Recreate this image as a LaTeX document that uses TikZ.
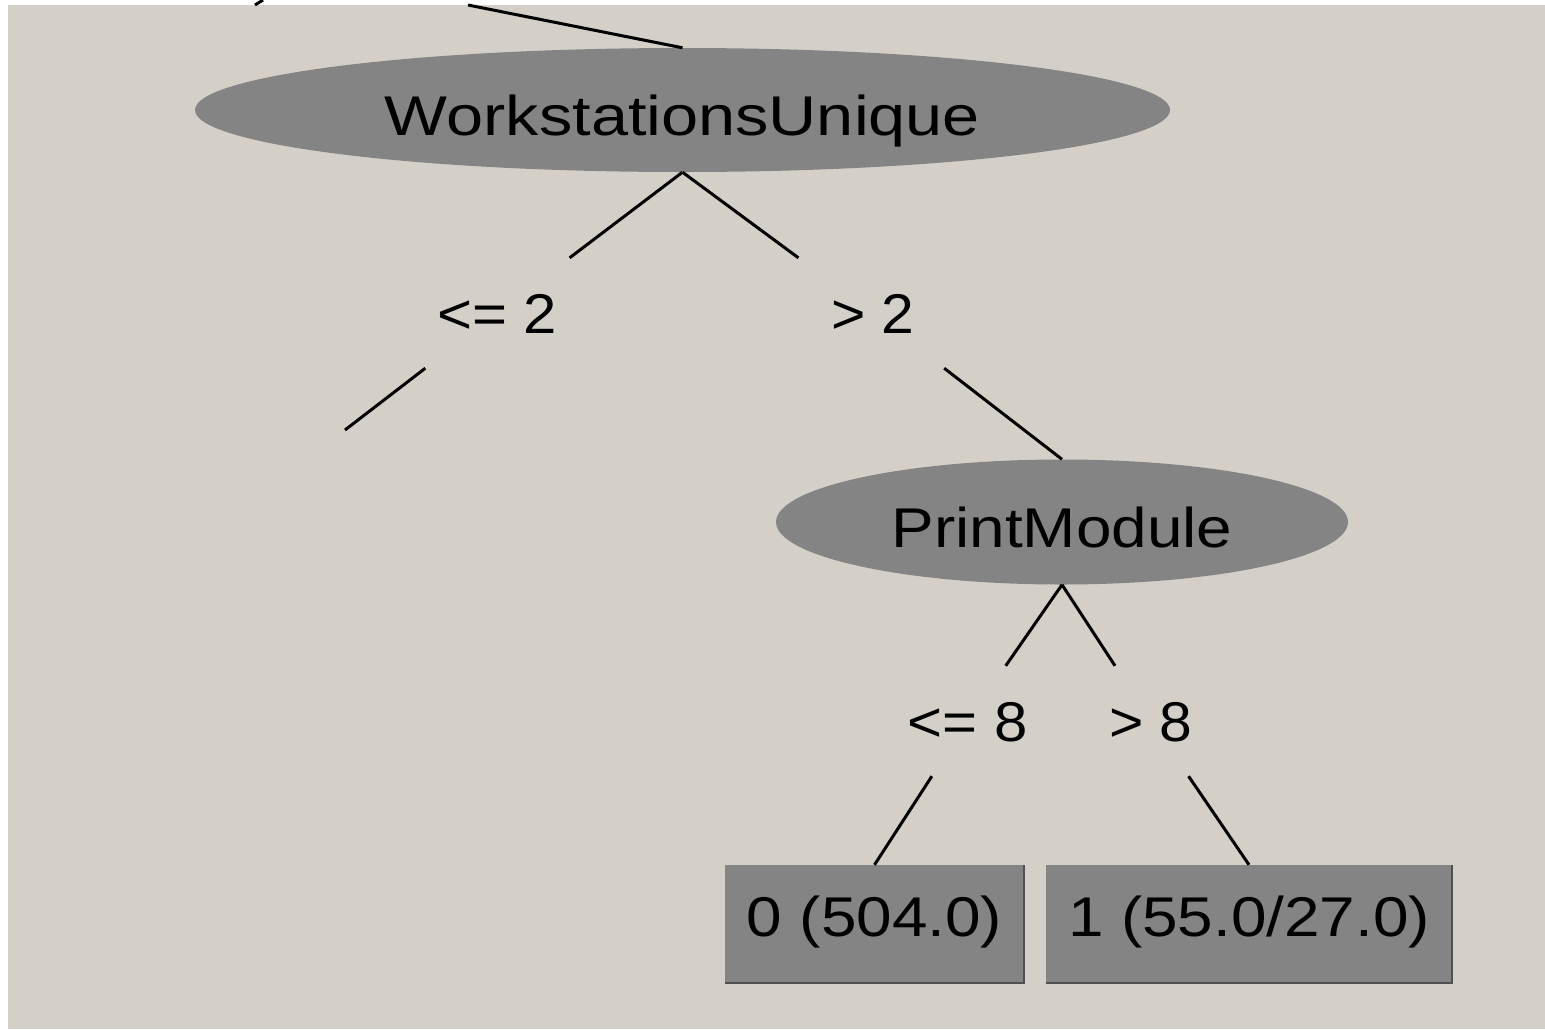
\documentclass[tikz,border=0pt]{standalone}
\usepackage{fontspec}
\usepackage{graphicx}
\setmainfont{Liberation Sans}
\usetikzlibrary{shapes.geometric}

\definecolor{panel}{HTML}{D4D0C8}
\definecolor{nodegray}{HTML}{848484}
\definecolor{edgedark}{HTML}{505050}

\tikzset{
  treefont/.style={font=\fontsize{56}{60}\selectfont, text=black},
  splitnode/.style={ellipse, fill=nodegray, inner sep=0pt, treefont,
    text height=50pt, text depth=0pt},
  leafbox/.style={rectangle, fill=nodegray, inner sep=0pt, treefont,
    text height=24pt, text depth=0pt},
  branchlbl/.style={rectangle, inner sep=0pt, minimum width=150pt,
    minimum height=110pt, treefont, text height=40pt, text depth=0pt},
  branch/.style={draw=black, line width=3pt},
  leafshade/.style={draw=edgedark, line width=2.5pt},
}
\newcommand\widetext[2]{\scalebox{#1}[1]{#2}}

\begin{document}
\begin{tikzpicture}[x=1pt,y=-1pt]
  \useasboundingbox (0,0) rectangle (1545,1029);
  % window frame and canvas
  \fill[white] (0,0) rectangle (1545,1029);
  \fill[panel] (8,5) rectangle (1545,1029);
  \draw[line width=3pt] (263,0) -- (255,5);

  % split nodes
  \node[splitnode, minimum width=975pt, minimum height=124pt] (ws) at (682.5,110)
    {\widetext{1.19}{WorkstationsUnique}};
  \node[splitnode, minimum width=572pt, minimum height=125pt] (pm) at (1062,522)
    {\widetext{1.14}{PrintModule}};

  % leaves
  \node[leafbox, minimum width=299pt, minimum height=118pt] (leaf0) at (874.5,924)
    {\widetext{1.14}{0 (504.0)}};
  \node[leafbox, minimum width=406pt, minimum height=118pt] (leaf1) at (1249,924)
    {\widetext{1.14}{1 (55.0/27.0)}};
  \draw[leafshade] (leaf0.south west) -- (leaf0.south east) -- (leaf0.north east);
  \draw[leafshade] (leaf1.south west) -- (leaf1.south east) -- (leaf1.north east);

  % branch conditions
  \node[branchlbl] (le2) at (497,313) {\widetext{1.07}{<= 2}};
  \node[branchlbl] (gt2) at (873,313) {\widetext{1.05}{> 2}};
  \node[branchlbl] (le8) at (967.5,721) {\widetext{1.07}{<= 8}};
  \node[branchlbl] (gt8) at (1151,721) {\widetext{1.05}{> 8}};

  % loose ends of the tree
  \coordinate (parentin) at (468,5);
  \coordinate (lostchild) at (345,430);

  % branches
  \draw[branch] (parentin) -- (ws.north);
  \draw[branch] (ws.south) -- (le2);
  \draw[branch] (le2) -- (lostchild);
  \draw[branch] (ws.south) -- (gt2);
  \draw[branch] (gt2) -- (pm.north);
  \draw[branch] (pm.south) -- (le8);
  \draw[branch] (le8) -- (leaf0.north);
  \draw[branch] (pm.south) -- (gt8);
  \draw[branch] (gt8) -- (leaf1.north);
\end{tikzpicture}
\end{document}
